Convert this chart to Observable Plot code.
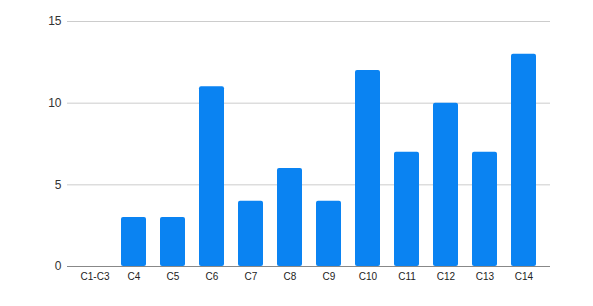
<!DOCTYPE html>
<html>
<head>
<meta charset="utf-8">
<script src="https://cdn.jsdelivr.net/npm/d3@7"></script>
<script src="https://cdn.jsdelivr.net/npm/@observablehq/plot@0.6"></script>
<style>
  html, body { margin: 0; padding: 0; background: #fff; }
  #chart { width: 593px; height: 306px; }
</style>
</head>
<body>
<div id="chart"></div>
<script>
const categories = ["C1-C3", "C4", "C5", "C6", "C7", "C8", "C9", "C10", "C11", "C12", "C13", "C14"];
const values = [0, 3, 3, 11, 4, 6, 4, 12, 7, 10, 7, 13];
const yTicks = [0, 5, 10, 15];

const data = categories.map((c, i) => ({category: c, value: values[i]}));

const chart = Plot.plot({
  width: 593,
  height: 306,
  marginLeft: 67,
  marginRight: 43,
  marginTop: 21,
  marginBottom: 40,
  style: {fontFamily: "'Liberation Sans', Arial, sans-serif", background: "#fff", color: "#222"},
  x: {domain: categories, paddingInner: 0.36, paddingOuter: 0.37, label: null, tickSize: 0, tickPadding: 6},
  y: {domain: [0, 15], ticks: yTicks, label: null, tickSize: 0, tickPadding: 6},
  marks: [
    Plot.gridY(yTicks, {stroke: "#cccccc", strokeOpacity: 1}),
    Plot.barY(data, {x: "category", y: "value", fill: "#0a83f2", rx: 2}),
    Plot.ruleY([0], {stroke: "#888888"}),
    Plot.axisY({ticks: yTicks, tickSize: 0, tickPadding: 6, fontSize: 12, fill: "#333", label: null}),
    Plot.axisX({tickSize: 0, tickPadding: 6, fontSize: 10, fill: "#222", label: null})
  ]
});
document.getElementById("chart").appendChild(chart);
</script>
</body>
</html>
